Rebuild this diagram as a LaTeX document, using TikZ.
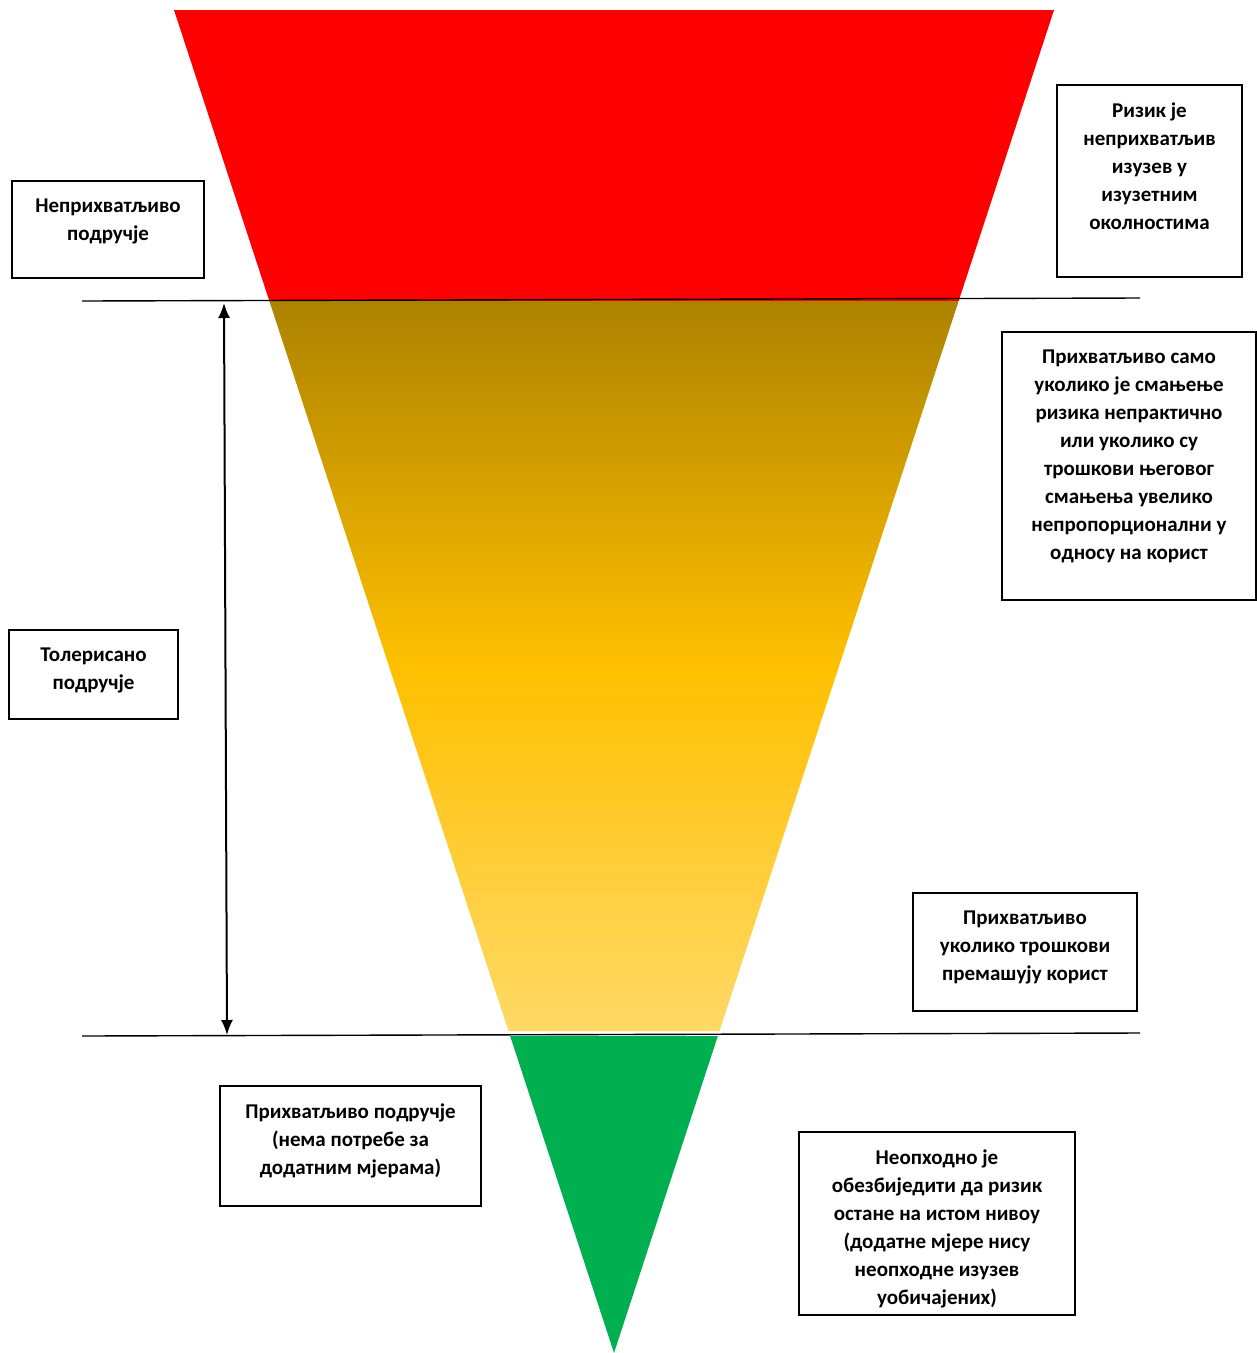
\documentclass[tikz,border=0pt]{standalone}
\usepackage{fontspec}
\setmainfont{Carlito}
\usetikzlibrary{positioning,arrows.meta,calc}

\definecolor{crvena}{HTML}{FF0000}
\definecolor{zlatna}{HTML}{AD8200}
\definecolor{zuta}{HTML}{FFC000}
\definecolor{svijetlozuta}{HTML}{FFD966}
\definecolor{zelena}{HTML}{00B050}

\tikzset{
	okvir/.style={draw, line width=1.6pt, rectangle, inner sep=0pt},
	tekst/.style={align=center, inner sep=0pt, font=\bfseries\fontsize{21}{28}\selectfont},
	granica/.style={line width=1.4pt},
}

\begin{document}
\begin{tikzpicture}[x=1pt,y=-1pt]
				\useasboundingbox (0,0) rectangle (1257,1353);
				\begin{scope}
					% trougao
					\coordinate (vl) at (174,10);
					\coordinate (vd) at (1054,10);
					\coordinate (dno) at (614,1353);

					\fill[crvena] (vl) -- (vd) -- ($(vd)!0.2167!(dno)$) -- ($(vl)!0.2167!(dno)$) -- cycle; % neprihvatljivo
					\shade[top color=zlatna, bottom color=svijetlozuta, middle color=zuta]
						($(vl)!0.2167!(dno)$) -- ($(vd)!0.2167!(dno)$) -- ($(vd)!0.7603!(dno)$) -- ($(vl)!0.7603!(dno)$) -- cycle; % tolerisano
					\fill[zelena] ($(vl)!0.7640!(dno)$) -- ($(vd)!0.7640!(dno)$) -- (dno) -- cycle; % prihvatljivo

					% granice
					\coordinate (g1) at (82,301);
					\coordinate (g2) at (1140,298);
					\coordinate (d1) at (82,1036);
					\coordinate (d2) at (1140,1033);
					\draw[granica] (g1) -- (g2);
					\draw[granica] (d1) -- (d2);

					\coordinate (sg) at (224,303);
					\coordinate (sd) at (227,1035);
					\draw[line width=2pt, {Latex[length=15pt,width=12pt]}-{Latex[length=15pt,width=12pt]}] (sg) -- (sd);

					% okviri
					\node[okvir, minimum width=192pt, minimum height=97pt] (b1) at (108,229.5) {};
					\node[tekst, below=18pt of b1.north] (t1) {Неприхватљиво\\подручје};

					\node[okvir, minimum width=185pt, minimum height=192pt] (b2) at (1149.5,181) {};
					\node[tekst, below=18pt of b2.north] (t2) {Ризик је\\неприхватљив\\изузев у\\изузетним\\околностима};

					\node[okvir, minimum width=254pt, minimum height=268pt] (b3) at (1129,466) {};
					\node[tekst, below=18pt of b3.north] (t3) {Прихватљиво само\\уколико је смањење\\ризика непрактично\\или уколико су\\трошкови његовог\\смањења увелико\\непропорционални у\\односу на корист};

					\node[okvir, minimum width=169pt, minimum height=89pt] (b4) at (93.5,674.5) {};
					\node[tekst, below=18pt of b4.north] (t4) {Толерисано\\подручје};

					\node[okvir, minimum width=224pt, minimum height=118pt] (b5) at (1025,952) {};
					\node[tekst, below=18pt of b5.north] (t5) {Прихватљиво\\уколико трошкови\\премашују корист};

					\node[okvir, minimum width=261pt, minimum height=120pt] (b6) at (350.5,1146) {};
					\node[tekst, below=18pt of b6.north] (t6) {Прихватљиво подручје\\(нема потребе за\\додатним мјерама)};

					\node[okvir, minimum width=276pt, minimum height=183pt] (b7) at (937,1223.5) {};
					\node[tekst, below=18pt of b7.north] (t7) {Неопходно је\\обезбиједити да ризик\\остане на истом нивоу\\(додатне мјере нису\\неопходне изузев\\уобичајених)};
				\end{scope}
			\end{tikzpicture}
\end{document}
